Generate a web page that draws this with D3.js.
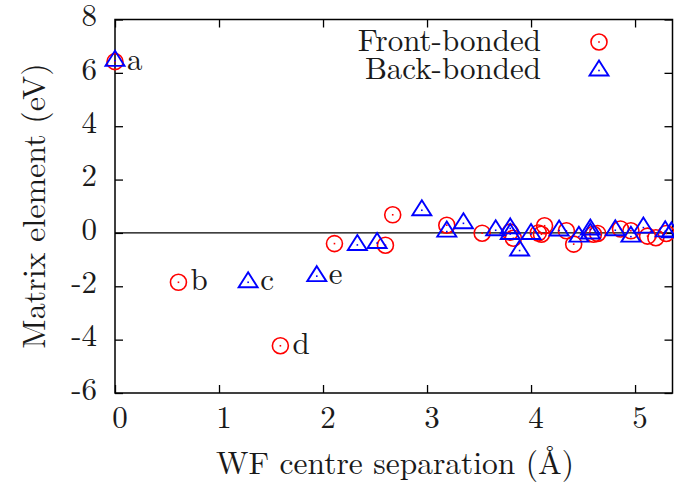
<!DOCTYPE html>
<html>
<head>
<meta charset="utf-8">
<script src="https://cdn.jsdelivr.net/npm/d3@7"></script>
<style>
  html, body { margin: 0; padding: 0; background: #fff; }
</style>
</head>
<body>
<svg id="chart" width="674" height="486"></svg>
<script>
// Front-bonded matrix elements: WF centre separation (Å) and value (eV)
const frontX = [0.00, 0.61, 1.59, 2.11, 2.60, 2.67, 3.19, 3.53, 3.80, 3.83, 4.07, 4.10, 4.13, 4.34, 4.41, 4.60, 4.64, 4.86, 4.96, 5.12, 5.20, 5.30];
const frontY = [6.42, -1.85, -4.23, -0.40, -0.46, 0.68, 0.29, -0.01, 0.03, -0.20, 0.00, -0.05, 0.27, 0.08, -0.42, -0.05, -0.02, 0.15, 0.08, -0.12, -0.18, -0.02];

// Back-bonded matrix elements
const backX = [0.00, 1.28, 1.94, 2.33, 2.52, 2.95, 3.19, 3.35, 3.66, 3.80, 3.80, 3.89, 4.00, 4.27, 4.46, 4.57, 4.57, 4.81, 4.96, 5.08, 5.29, 5.35];
const backY = [6.45, -1.85, -1.62, -0.45, -0.38, 0.85, 0.05, 0.36, 0.10, 0.17, -0.04, -0.66, -0.04, 0.09, -0.14, 0.13, -0.02, 0.10, -0.14, 0.20, 0.06, 0.02];

// Point annotations
const noteText = ["a", "b", "c", "d", "e"];
const noteX = [0.00, 0.61, 1.28, 1.59, 1.94];
const noteY = [6.42, -1.85, -1.85, -4.23, -1.62];

const xTicks = [0, 1, 2, 3, 4, 5];
const yTicks = [-6, -4, -2, 0, 2, 4, 6, 8];
const seriesNames = ["Front-bonded", "Back-bonded"];

const W = 674, H = 486;
const margin = { left: 115, right: 1.5, top: 19.5, bottom: 93 };
const svg = d3.select("#chart");

const x = d3.scaleLinear().domain([0, 5.36]).range([margin.left, W - margin.right]);
const y = d3.scaleLinear().domain([-6, 8]).range([H - margin.bottom, margin.top]);

const FAMILY = '"Latin Modern Roman", "Liberation Serif", serif';
const FONT = 31;
const TICK = 8;
const INK = "#1a1a1a";

function txt(sel, size = FONT) {
  return sel.style("font-family", FAMILY).style("font-size", size + "px").attr("fill", INK);
}

// zero line
svg.append("line")
  .attr("x1", x.range()[0]).attr("x2", x.range()[1])
  .attr("y1", y(0)).attr("y2", y(0))
  .attr("stroke", "#000").attr("stroke-width", 1.2);

// axes with inward ticks, mirrored on the opposite sides
const plain = d => String(d);
const bottomAxis = d3.axisBottom(x).tickValues(xTicks).tickSizeInner(-TICK).tickSizeOuter(0).tickPadding(TICK + 11).tickFormat(plain);
const topAxis = d3.axisTop(x).tickValues(xTicks).tickSizeInner(-TICK).tickSizeOuter(0).tickFormat("");
const leftAxis = d3.axisLeft(y).tickValues(yTicks).tickSizeInner(-TICK).tickSizeOuter(0).tickPadding(TICK + 10).tickFormat(plain);
const rightAxis = d3.axisRight(y).tickValues(yTicks).tickSizeInner(-TICK).tickSizeOuter(0).tickFormat("");

function styleAxis(g) {
  g.attr("font-family", null).attr("font-size", null);
  g.select(".domain").remove();
  g.selectAll(".tick line").attr("stroke", "#000").attr("stroke-width", 1.3);
  g.selectAll(".tick text").call(txt);
}

svg.append("g").attr("transform", `translate(0,${y(-6)})`).call(bottomAxis).call(styleAxis)
  .selectAll(".tick text").attr("dy", "0.5em").attr("dx", 4.5);
svg.append("g").attr("transform", `translate(0,${y(8)})`).call(topAxis).call(styleAxis);
svg.append("g").attr("transform", `translate(${x(0)},0)`).call(leftAxis).call(styleAxis)
  .selectAll(".tick text").attr("dy", "0.2em");
svg.append("g").attr("transform", `translate(${x.range()[1]},0)`).call(rightAxis).call(styleAxis);

// plot border
svg.append("rect")
  .attr("x", x.range()[0]).attr("y", y.range()[1])
  .attr("width", x.range()[1] - x.range()[0]).attr("height", y.range()[0] - y.range()[1])
  .attr("fill", "none").attr("stroke", "#000").attr("stroke-width", 1.5);

// marker helpers
const RED = "#ff0000", BLUE = "#0000ff";
function circleMark(g, cx, cy) {
  g.append("circle").attr("cx", cx).attr("cy", cy).attr("r", 8)
    .attr("fill", "none").attr("stroke", RED).attr("stroke-width", 1.6);
  g.append("rect").attr("x", cx - 0.8).attr("y", cy - 0.8).attr("width", 1.6).attr("height", 1.6).attr("fill", RED);
}
function triMark(g, cx, cy) {
  g.append("path")
    .attr("d", `M${cx},${cy - 10}L${cx + 9.5},${cy + 5}L${cx - 9.5},${cy + 5}Z`)
    .attr("fill", "none").attr("stroke", BLUE).attr("stroke-width", 1.9).attr("stroke-linejoin", "miter");
  g.append("rect").attr("x", cx - 0.8).attr("y", cy - 0.8).attr("width", 1.6).attr("height", 1.6).attr("fill", BLUE);
}

const front = d3.zip(frontX, frontY);
const back = d3.zip(backX, backY);

const gFront = svg.append("g");
front.forEach(([a, b]) => circleMark(gFront, x(a), y(b)));
const gBack = svg.append("g");
back.forEach(([a, b]) => triMark(gBack, x(a), y(b)));

// point annotations
svg.append("g").selectAll("text").data(d3.range(noteText.length)).join("text")
  .call(txt)
  .attr("x", i => x(noteX[i]) + 12)
  .attr("y", i => y(noteY[i]) + 8)
  .text(i => noteText[i]);

// legend
const legend = svg.append("g");
seriesNames.forEach((name, i) => {
  const ly = 42 + i * 28.5;
  legend.append("text").call(txt).attr("x", 541).attr("y", ly + 8.5).attr("text-anchor", "end").text(name);
  if (i === 0) circleMark(legend, 599, ly); else triMark(legend, 599, ly);
});

// axis titles
svg.append("text").call(txt, 31.5).attr("x", 395).attr("y", 474).attr("text-anchor", "middle")
  .text("WF centre separation (Å)");
svg.append("text").call(txt, 32).attr("transform", `translate(45,206) rotate(-90)`).attr("text-anchor", "middle")
  .text("Matrix element (eV)");
</script>
</body>
</html>
